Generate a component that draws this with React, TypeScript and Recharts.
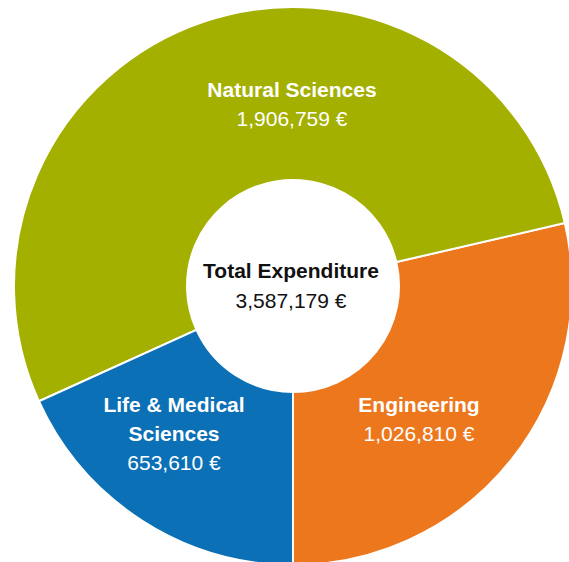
import { Cell, Pie, PieChart } from 'recharts'

const categories = ['Engineering', 'Natural Sciences', 'Life & Medical Sciences']
const labelLines = [['Engineering'], ['Natural Sciences'], ['Life & Medical', 'Sciences']]
const expenditure = [1026810, 1906759, 653610]
const sliceColours = ['#ed771c', '#a3b000', '#0b70b5']
const centreTitle = 'Total Expenditure'

// label anchor offsets from the centre, one per slice (x, first baseline)
const labelOffsets = [
	[126, 126],
	[-1, -189],
	[-119, 126],
]

const FONT = "'Liberation Sans', Arial, Helvetica, sans-serif"
const LINE = 29
const SIZE = 21

const fmt = (v: number) => v.toLocaleString('en-US') + ' \u20ac'

const data = categories.map((name, i) => ({ name, value: expenditure[i] }))
const total = expenditure.reduce((a, b) => a + b, 0)

const renderLabel = (props: any) => {
	const { cx, cy, index } = props
	const [dx, dy] = labelOffsets[index]
	const lines = labelLines[index]
	const x = cx + dx
	return (
		<g>
			{lines.map((l, j) => (
				<text
					key={j}
					x={x}
					y={cy + dy + j * LINE}
					textAnchor='middle'
					fill='#ffffff'
					fontFamily={FONT}
					fontSize={SIZE}
					fontWeight='bold'
				>
					{l}
				</text>
			))}
			<text
				x={x}
				y={cy + dy + lines.length * LINE}
				textAnchor='middle'
				fill='#ffffff'
				fontFamily={FONT}
				fontSize={SIZE}
			>
				{fmt(expenditure[index])}
			</text>
			{index === 0 && (
				<g>
					<text
						x={cx - 2}
						y={cy - 8}
						textAnchor='middle'
						fill='#111111'
						fontFamily={FONT}
						fontSize={SIZE}
						fontWeight='bold'
					>
						{centreTitle}
					</text>
					<text
						x={cx - 2}
						y={cy + 22}
						textAnchor='middle'
						fill='#111111'
						fontFamily={FONT}
						fontSize={SIZE}
					>
						{fmt(total)}
					</text>
				</g>
			)}
		</g>
	)
}

const App = () => {
	return (
		<div style={{ position: 'absolute', left: 0, top: 0 }}>
			<PieChart width={569} height={562} margin={{ top: 0, right: 0, bottom: 0, left: 0 }}>
				<Pie
					data={data}
					dataKey='value'
					nameKey='name'
					cx={293}
					cy={286}
					innerRadius={106}
					outerRadius={279}
					startAngle={-90}
					endAngle={270}
					stroke='#ffffff'
					strokeWidth={2}
					label={renderLabel}
					labelLine={false}
					isAnimationActive={false}
				>
					{data.map((d, i) => (
						<Cell key={d.name} fill={sliceColours[i]} />
					))}
				</Pie>
			</PieChart>
		</div>
	)
}

export default App
